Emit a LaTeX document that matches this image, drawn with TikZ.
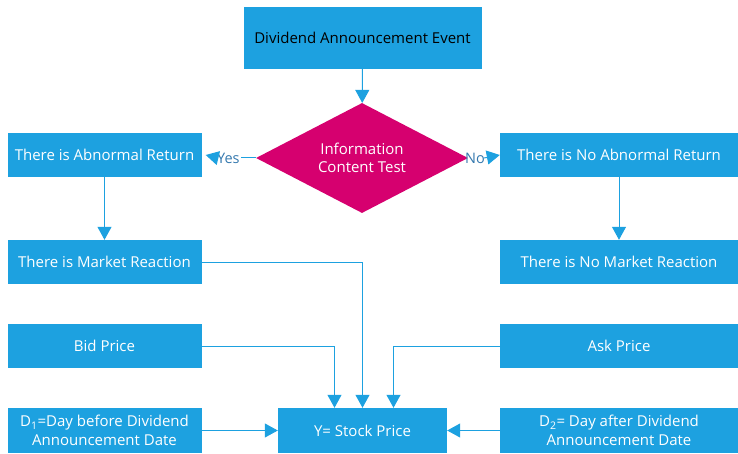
\documentclass[tikz,border=0pt]{standalone}
\usepackage{fontspec}
\setmainfont{Open Sans}
\usetikzlibrary{shapes.geometric,arrows.meta}
\definecolor{boxblue}{HTML}{1DA1E0}
\definecolor{mag}{HTML}{D6006F}
\definecolor{lblcol}{HTML}{3478AE}
\tikzset{
  bx/.style={fill=boxblue, draw=none, inner sep=0pt, align=center, text=white, font=\fontsize{15}{18.5}\selectfont},
  line/.style={draw=boxblue, line width=1pt},
  conn/.style={line, -{Triangle[length=13pt,width=14pt]}},
  lbl/.style={text=lblcol, font=\fontsize{14.5}{17}\selectfont, inner sep=0pt}
}
\begin{document}
\begin{tikzpicture}[x=1pt,y=-1pt]
\useasboundingbox (0,0) rectangle (738,454);
\node[bx, text=black, minimum width=238pt, minimum height=62pt] (top) at (362.5,38) {Dividend Announcement Event};
\node[shape=diamond, aspect=2, fill=mag, inner sep=0pt, minimum width=212pt, minimum height=110pt, text=white, align=center, font=\fontsize{15}{18.5}\selectfont] (dia) at (362,158) {Information\\Content Test};
\node[bx, minimum width=194pt, minimum height=44pt] (abn) at (104.5,155) {There is Abnormal Return};
\node[bx, minimum width=238pt, minimum height=44pt] (noabn) at (619,155) {There is No Abnormal Return};
\node[bx, minimum width=194pt, minimum height=44pt] (mr) at (104.5,262) {There is Market Reaction};
\node[bx, minimum width=238pt, minimum height=44pt] (nomr) at (619,262) {There is No Market Reaction};
\node[bx, minimum width=194pt, minimum height=44pt] (bid) at (104.5,346) {Bid Price};
\node[bx, minimum width=238pt, minimum height=44pt] (ask) at (619,346) {Ask Price};
\node[bx, minimum width=194pt, minimum height=45pt] (d1) at (104.5,430.5) {D\textsubscript{1}=Day before Dividend\\Announcement Date};
\node[bx, minimum width=238pt, minimum height=45pt] (d2) at (619,430.5) {D\textsubscript{2}= Day after Dividend\\Announcement Date};
\node[bx, minimum width=169pt, minimum height=45pt] (y) at (362.5,430.5) {Y= Stock Price};
\node[lbl, anchor=west] (yes) at (217,158) {Yes};
\node[lbl, anchor=west] (no) at (465,158) {No};
\coordinate (abnin) at ([xshift=4pt]abn.east);
\draw[conn] (top) -- (dia);
\draw[line] (dia.west) -- ([xshift=1pt]yes.east);
\draw[conn] ([xshift=1pt]yes.west) -- (abnin);
\draw[conn] ([xshift=-1pt]no.east) -- (noabn.west);
\draw[conn] (abn) -- (mr);
\draw[conn] (noabn.south -| nomr) -- (nomr);
\draw[conn] (mr.east) -| (y.north);
\draw[conn] (bid.east) -| ([xshift=-28pt]y.north);
\draw[conn] (ask.west) -| ([xshift=31pt]y.north);
\draw[conn] (d1) -- (y);
\draw[conn] (d2) -- (y);
\end{tikzpicture}
\end{document}
